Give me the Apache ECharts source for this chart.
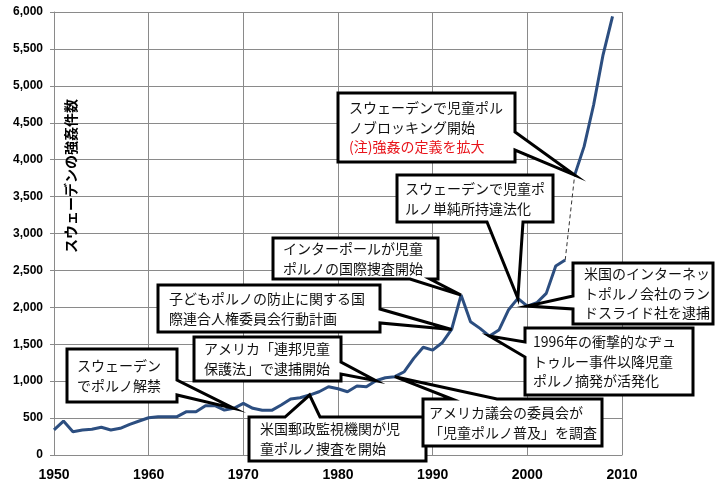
<!DOCTYPE html>
<html><head><meta charset="utf-8">
<script src="https://cdn.jsdelivr.net/npm/echarts@6/dist/echarts.min.js"></script>
<style>html,body{margin:0;padding:0;background:#fff}#c{width:727px;height:499px}</style>
</head><body><div id="c"></div>
<script>
// ---- data ----
const years = [1950,1951,1952,1953,1954,1955,1956,1957,1958,1959,
               1960,1961,1962,1963,1964,1965,1966,1967,1968,1969,
               1970,1971,1972,1973,1974,1975,1976,1977,1978,1979,
               1980,1981,1982,1983,1984,1985,1986,1987,1988,1989,
               1990,1991,1992,1993,1994,1995,1996,1997,1998,1999,
               2000,2001,2002,2003,2004,2005,2006,2007,2008,2009];
const rapeCases = [340,460,316,338,348,375,338,361,415,460,
                   505,519,519,519,587,587,668,668,609,632,
                   700,632,605,605,677,758,776,812,857,925,
                   898,857,934,925,1006,1047,1061,1128,1309,1460,
                   1420,1520,1700,2166,1805,1715,1611,1692,1963,2121,
                   2017,2062,2189,2559,2640,3791,4180,4740,5420,5940];
const breakYear = 2004;          // last year of old definition; dashed link to next year
const axisTitle = 'スウェーデンの強姦件数';

// annotation texts and the year each points at
const noteLines = [
  ['スウェーデン','でポルノ解禁'],
  ['アメリカ「連邦児童','保護法」で逮捕開始'],
  ['米国郵政監視機関が児','童ポルノ捜査を開始'],
  ['子どもポルノの防止に関する国','際連合人権委員会行動計画'],
  ['インターポールが児童','ポルノの国際捜査開始'],
  ['スウェーデンで児童ポ','ルノ単純所持違法化'],
  ['スウェーデンで児童ポル','ノブロッキング開始','(注)強姦の定義を拡大'],
  ['米国のインターネッ','トポルノ会社のラン','ドスライド社を逮捕'],
  ['1996年の衝撃的なヂュ','トゥルー事件以降児童','ポルノ摘発が活発化'],
  ['アメリカ議会の委員会が','「児童ポルノ普及」を調査']
];
const noteYears = [1969,1984,1977,1992,1993,1999,2005,2000,1996,1986];
const redLine = {6:2};

// ---- layout (pixels) ----
const noteLayout = [
  {box:[67,349,110,53],  edge:'right',  base:[380,395], pad:10},
  {box:[194,337,147,44], edge:'right',  base:[362,374], pad:10},
  {box:[249,417,177,44], edge:'top',    base:[285,320], pad:11},
  {box:[158,285,222,47], edge:'right',  base:[309,323], pad:11},
  {box:[273,238,165,41], edge:'bottom', base:[410,430], pad:10},
  {box:[397,175,156,47], edge:'bottom', base:[487,523], pad:8},
  {box:[338,93,177,69],  edge:'right',  base:[132,150], pad:11},
  {box:[573,263,140,61], edge:'left',   base:[296,309], pad:11},
  {box:[525,328,168,67], edge:'left',   base:[342,357], pad:8},
  {box:[423,399,179,47], edge:'top',    base:[452,497], pad:6}
];

const pairs = years.map((y,i)=>[y, rapeCases[i]]);
const oldDef = pairs.filter(p=>p[0]<=breakYear);
const newDef = pairs.filter(p=>p[0]>breakYear);
const link = [pairs[years.indexOf(breakYear)], pairs[years.indexOf(breakYear)+1]];

const chart = echarts.init(document.getElementById('c'), null, {renderer:'canvas'});
const gridCol = '#8a8a8a';
chart.setOption({
  animation:false,
  backgroundColor:'#fff',
  grid:{left:54, right:105, top:12, bottom:44, containLabel:false},
  xAxis:{type:'value', min:1950, max:2010, interval:10,
    axisLine:{show:true, lineStyle:{color:gridCol, width:1}},
    axisTick:{show:false},
    splitLine:{show:true, lineStyle:{color:gridCol, width:1}},
    axisLabel:{color:'#000', fontWeight:'bold', fontSize:14, fontFamily:'Arial, "Liberation Sans"', margin:13,
      formatter:v=>String(v)}
  },
  yAxis:{type:'value', min:0, max:6000, interval:500,
    axisLine:{show:true, lineStyle:{color:gridCol, width:1}},
    axisTick:{show:true, length:4, lineStyle:{color:gridCol}},
    splitLine:{show:true, lineStyle:{color:gridCol, width:1}},
    axisLabel:{color:'#000', fontWeight:'bold', fontSize:12, fontFamily:'Arial, "Liberation Sans"', margin:11,
      formatter:v=>v.toLocaleString('en-US')}
  },
  series:[
    {type:'line', data:oldDef, symbol:'none', lineStyle:{color:'#2c4e80', width:3}, z:3},
    {type:'line', data:newDef, symbol:'none', lineStyle:{color:'#2c4e80', width:3}, z:3},
    {type:'line', data:link, symbol:'none', lineStyle:{color:'#333', width:1, type:[4,3]}, z:2}
  ]
});

function bubblePoints(b, edge, base, tip){
  const [x,y,w,h] = b;
  if(edge==='right') return [[x,y],[x+w,y],[x+w,base[0]],tip,[x+w,base[1]],[x+w,y+h],[x,y+h]];
  if(edge==='left')  return [[x,y],[x+w,y],[x+w,y+h],[x,y+h],[x,base[1]],tip,[x,base[0]]];
  if(edge==='top')   return [[x,y],[base[0],y],tip,[base[1],y],[x+w,y],[x+w,y+h],[x,y+h]];
  return [[x,y],[x+w,y],[x+w,y+h],[base[1],y+h],tip,[base[0],y+h],[x,y+h]];
}

const graphics = [];
graphics.push({type:'text', x:71, y:176, rotation:Math.PI/2, z:50,
  style:{text:axisTitle, font:'bold 14px "Noto Sans CJK JP"', fill:'#000',
    textAlign:'center', textVerticalAlign:'middle', align:'center', verticalAlign:'middle'}});

noteLines.forEach((lines,i)=>{
  const L = noteLayout[i];
  const yr = noteYears[i];
  const tip = chart.convertToPixel({gridIndex:0}, [yr, rapeCases[years.indexOf(yr)]]);
  graphics.push({type:'polygon', z:100,
    shape:{points:bubblePoints(L.box, L.edge, L.base, tip)},
    style:{fill:'#fff', stroke:'#000', lineWidth:3, lineJoin:'miter'}});
  const lh = lines.length===3 ? 19.5 : 20;
  const fs = 14;
  const top = L.box[1] + (L.box[3] - lines.length*lh)/2 + (lh-fs)/2;
  lines.forEach((t,j)=>{
    graphics.push({type:'text', z:101, x:L.box[0]+L.pad, y:top + j*lh,
      style:{text:t, font:fs+'px "Noto Sans CJK JP"', fill:(redLine[i]===j)?'#e8141b':'#111',
        textAlign:'left', textVerticalAlign:'top', align:'left', verticalAlign:'top'}});
  });
});
chart.setOption({graphic:graphics});
</script>
</body></html>
